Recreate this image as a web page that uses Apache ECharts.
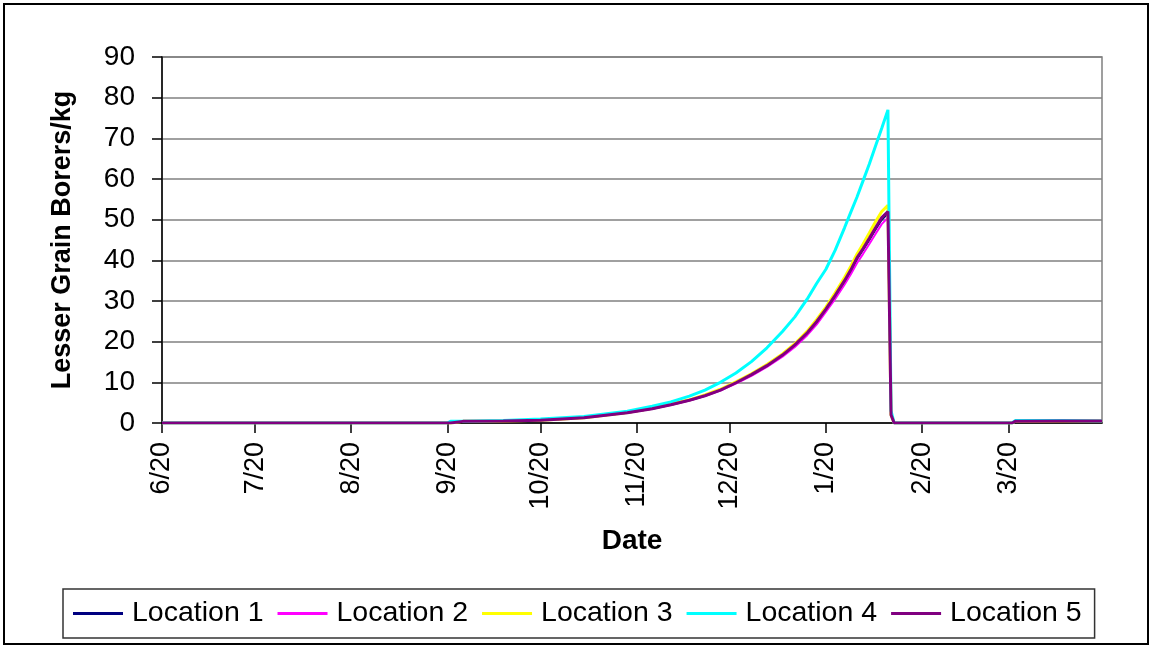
<!DOCTYPE html>
<html>
<head>
<meta charset="utf-8">
<title>Lesser Grain Borers/kg by Date</title>
<script src="https://cdn.jsdelivr.net/npm/echarts@6/dist/echarts.min.js"></script>
<style>
  html, body { margin: 0; padding: 0; background: #fff; }
  #chart { width: 1151px; height: 647px; }
</style>
</head>
<body>
<div id="chart"></div>
<script>
// Sample dates (one season, June through April)
const dates = [
  '2006-06-20', '2006-09-20', '2006-09-21', '2006-09-25', '2006-10-08', '2006-10-20',
  '2006-11-03', '2006-11-17', '2006-11-25', '2006-12-01', '2006-12-07', '2006-12-12',
  '2006-12-17', '2006-12-22', '2006-12-27', '2007-01-01', '2007-01-06', '2007-01-10',
  '2007-01-14', '2007-01-17', '2007-01-20', '2007-01-23', '2007-01-26', '2007-01-28',
  '2007-01-30', '2007-02-01', '2007-02-03', '2007-02-05', '2007-02-07', '2007-02-09',
  '2007-02-10', '2007-02-11', '2007-03-21', '2007-03-22', '2007-04-06', '2007-04-19'
];

// Lesser grain borers per kg at each sample date
const location1 = [0, 0, 0, 0.4, 0.5, 0.7, 1.3, 2.5, 3.5, 4.5, 5.6, 6.7, 8.1, 9.9, 11.8, 14, 16.6, 19,
  22, 24.7, 27.8, 31.2, 34.7, 37.3, 40.3, 42.6, 45, 47.6, 50, 51.5, 2, 0, 0, 0.4, 0.5, 0.5];
const location2 = [0, 0, 0, 0.4, 0.5, 0.7, 1.3, 2.5, 3.5, 4.4, 5.5, 6.6, 8, 9.7, 11.6, 13.8, 16.3, 18.7,
  21.6, 24.2, 27.3, 30.5, 34, 36.5, 39.3, 41.6, 44, 46.5, 48.9, 50.5, 2, 0, 0, 0.4, 0.5, 0.5];
const location3 = [0, 0, 0, 0.4, 0.5, 0.7, 1.3, 2.6, 3.6, 4.6, 5.7, 6.9, 8.3, 10.1, 12.1, 14.4, 17, 19.5,
  22.6, 25.4, 28.5, 32, 35.8, 38.5, 41.5, 44, 46.7, 49.5, 52, 53.5, 2, 0, 0, 0.4, 0.5, 0.5];
const location4 = [0, 0, 0.4, 0.4, 0.6, 1.0, 1.6, 2.9, 4.1, 5.2, 6.6, 8.1, 10, 12.3, 15.1, 18.5, 22.5, 26.1,
  30.5, 34.3, 37.8, 42.5, 48, 51.8, 55.5, 59.6, 63.7, 68.1, 72.5, 77, 3, 0, 0, 0.6, 0.6, 0.5];
const location5 = [0, 0, 0, 0.4, 0.5, 0.7, 1.3, 2.5, 3.5, 4.5, 5.6, 6.7, 8.1, 9.9, 11.9, 14.1, 16.7, 19.2,
  22.2, 24.9, 28, 31.4, 35, 37.6, 40.6, 42.9, 45.4, 48, 50.5, 52, 2, 0, 0, 0.4, 0.5, 0.5];

const seriesNames = ['Location 1', 'Location 2', 'Location 3', 'Location 4', 'Location 5'];
const seriesValues = [location1, location2, location3, location4, location5];
const seriesColors = ['#000080', '#ff00ff', '#ffff00', '#00ffff', '#800080'];
const seriesWidths = [2, 2, 3, 3, 3];

// Date axis: ticks on the 20th of each month
const tickDates = ['2006-06-20', '2006-07-20', '2006-08-20', '2006-09-20', '2006-10-20',
  '2006-11-20', '2006-12-20', '2007-01-20', '2007-02-20', '2007-03-20'];
const tickLabels = ['6/20', '7/20', '8/20', '9/20', '10/20', '11/20', '12/20', '1/20', '2/20', '3/20'];
const axisStart = '2006-06-20';
const axisEnd = '2007-04-19';

const FONT = '"Liberation Sans", Arial, Helvetica, sans-serif';
// Day number counted from the first date of the axis
const dayOf = s => {
  const p = s.split('-').map(Number);
  const q = axisStart.split('-').map(Number);
  return Math.round((Date.UTC(p[0], p[1] - 1, p[2]) - Date.UTC(q[0], q[1] - 1, q[2])) / 86400000);
};
const tickDays = tickDates.map(dayOf);

const chart = echarts.init(document.getElementById('chart'), null, { renderer: 'canvas' });

chart.setOption({
  animation: false,
  backgroundColor: '#ffffff',
  textStyle: { fontFamily: FONT },
  graphic: [{
    type: 'rect',
    silent: true,
    z: 100,
    shape: { x: 4, y: 4, width: 1144, height: 640 },
    style: { fill: null, stroke: '#000', lineWidth: 2 }
  }],
  grid: {
    left: 162, right: 49, top: 57, bottom: 224,
    show: true, borderColor: '#808080', borderWidth: 1.5, backgroundColor: '#fff'
  },
  legend: {
    left: 63, top: 589,
    icon: 'rect',
    itemWidth: 50, itemHeight: 3, itemGap: 14,
    padding: [10, 13, 10, 10],
    borderColor: '#333', borderWidth: 1.5,
    textStyle: { fontSize: 28.5, color: '#000', fontFamily: FONT, padding: [0, 0, 0, 4] },
    data: seriesNames
  },
  xAxis: {
    type: 'value',
    min: 0,
    max: dayOf(axisEnd),
    name: 'Date',
    nameLocation: 'middle',
    nameGap: 104,
    nameTextStyle: { fontSize: 28, fontWeight: 'bold', color: '#000', fontFamily: FONT },
    axisLine: { show: true, lineStyle: { color: '#000', width: 1.5 } },
    axisTick: { show: true, length: 10, customValues: tickDays, lineStyle: { color: '#000', width: 1.5 } },
    axisLabel: {
      customValues: tickDays,
      rotate: 90, margin: 19, fontSize: 27, color: '#000', fontFamily: FONT,
      formatter: v => {
        const i = tickDays.indexOf(Math.round(v));
        return i >= 0 ? tickLabels[i] : '';
      }
    },
    splitLine: { show: false }
  },
  yAxis: {
    type: 'value',
    min: 0, max: 90, interval: 10,
    name: 'Lesser Grain Borers/kg',
    nameLocation: 'middle',
    nameGap: 86,
    nameTextStyle: { fontSize: 27, fontWeight: 'bold', color: '#000', fontFamily: FONT },
    axisLine: { show: true, lineStyle: { color: '#000', width: 1.5 } },
    axisTick: { show: true, length: 10, lineStyle: { color: '#000', width: 1.5 } },
    axisLabel: { margin: 27, fontSize: 28, color: '#000', fontFamily: FONT },
    splitLine: { show: true, lineStyle: { color: '#808080', width: 1.5 } }
  },
  series: seriesNames.map((name, k) => ({
    name,
    type: 'line',
    symbol: 'none',
    showSymbol: false,
    color: seriesColors[k],
    lineStyle: { color: seriesColors[k], width: seriesWidths[k] },
    data: dates.map((d, i) => [dayOf(d), seriesValues[k][i]])
  }))
});
</script>
</body>
</html>
